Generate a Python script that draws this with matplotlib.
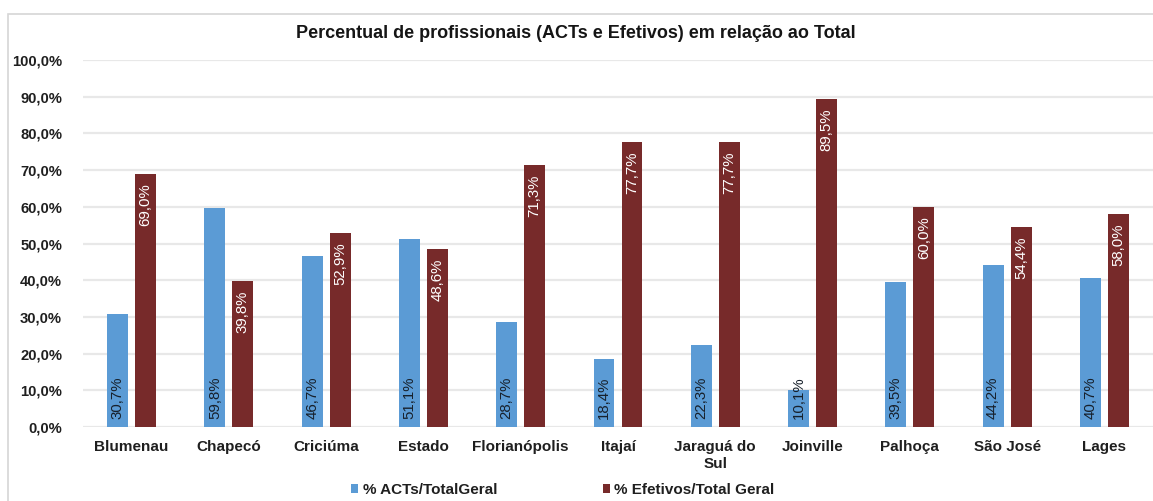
import matplotlib
matplotlib.use("Agg")
import matplotlib.pyplot as plt
from matplotlib.patches import Rectangle
import numpy as np

categories = ["Blumenau", "Chapecó", "Criciúma", "Estado", "Florianópolis", "Itajaí",
              "Jaraguá do\nSul", "Joinville", "Palhoça", "São José", "Lages"]
acts = [30.7, 59.8, 46.7, 51.1, 28.7, 18.4, 22.3, 10.1, 39.5, 44.2, 40.7]
efetivos = [69.0, 39.8, 52.9, 48.6, 71.3, 77.7, 77.7, 89.5, 60.0, 54.4, 58.0]
yticks = [0, 10, 20, 30, 40, 50, 60, 70, 80, 90, 100]
title = "Percentual de profissionais (ACTs e Efetivos) em relação ao Total"
legend_labels = ["% ACTs/TotalGeral", "% Efetivos/Total Geral"]

plt.rcParams['font.family'] = ['Liberation Sans', 'DejaVu Sans']

W, H = 1153, 501
fig = plt.figure(figsize=(W / 100, H / 100), dpi=100)
fig.patch.set_facecolor("white")

# outer frame
fig.patches.append(Rectangle((8 / W, -0.1), 1.2, 1 - 14 / H + 0.1, transform=fig.transFigure,
                             fill=False, edgecolor="#d6d6d6", linewidth=1.2))

ax = fig.add_axes([83 / W, 1 - 427 / H, (1153 - 83) / W, (427 - 60) / H])
ax.set_facecolor("none")

blue = "#5B9BD5"
red = "#772A2A"
x = np.arange(len(categories))
bw = 0.215
off = 0.144
b1 = ax.bar(x - off, acts, bw, color=blue, zorder=3, label=legend_labels[0])
b2 = ax.bar(x + off, efetivos, bw, color=red, zorder=3, label=legend_labels[1])

for xi, v in zip(x, acts):
    ax.text(xi - off, 2.3, f"{v:.1f}%".replace(".", ","), rotation=90, ha="center", va="bottom",
            fontsize=10.8, color="#17202b", zorder=4)
for xi, v in zip(x, efetivos):
    ax.text(xi + off, v - 2.6, f"{v:.1f}%".replace(".", ","), rotation=90, ha="center", va="top",
            fontsize=10.8, color="white", zorder=4)

ax.set_xlim(-0.5, len(categories) - 0.5)
ax.set_ylim(0, 100)
ax.set_yticks(yticks)
ax.set_yticklabels([f"{t:.1f}%".replace(".", ",") for t in yticks], fontsize=10.6, fontweight="bold",
                   color="#1f1f1f")

# x labels: baseline-aligned; multi-line labels placed so their first line shares the baseline
label_style = dict(fontsize=11, fontweight="bold", color="#1f1f1f", linespacing=1.15)
ax.set_xticks(x)
ax.set_xticklabels([c if "\n" not in c else "" for c in categories], **label_style)
for lab in ax.get_xticklabels():
    lab.set_verticalalignment("baseline")
for xi, c in zip(x, categories):
    if "\n" in c:
        first, rest = c.split("\n", 1)
        ax.annotate(first, xy=(xi, 0), xycoords=("data", "axes fraction"), xytext=(0, -24),
                    textcoords="offset pixels", ha="center", va="baseline", **label_style)
        ax.annotate(rest, xy=(xi, 0), xycoords=("data", "axes fraction"), xytext=(0, -41),
                    textcoords="offset pixels", ha="center", va="baseline", **label_style)
ax.tick_params(axis="both", length=0)
ax.tick_params(axis="y", pad=15)
ax.tick_params(axis="x", pad=17.3)
ax.grid(axis="y", color="#e8e8e8", linewidth=1.6, zorder=0)
for s in ax.spines.values():
    s.set_visible(False)

fig.text(576 / W, 1 - 33 / H, title, ha="center", va="center", fontsize=13, fontweight="bold",
         color="#151515")

leg = fig.legend(handles=[b1, b2], labels=legend_labels, loc="center", bbox_to_anchor=(563 / W, 1 - 490 / H),
                 ncol=2, frameon=False, prop={"weight": "bold", "size": 11},
                 handlelength=0.45, handleheight=0.45, handletextpad=0.3, columnspacing=6.9)
for t in leg.get_texts():
    t.set_color("#1f1f1f")

fig.savefig("out.png", dpi=100, facecolor="white")
